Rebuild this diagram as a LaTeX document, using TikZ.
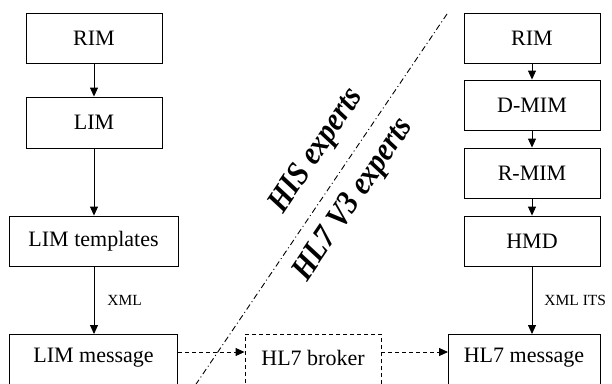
\documentclass[tikz,border=0pt]{standalone}
\usepackage{fontspec}
\setmainfont{Liberation Serif}
\usetikzlibrary{arrows.meta}
\begin{document}
\begin{tikzpicture}[x=1pt,y=-1pt,
  box/.style={draw,line width=0.9pt,inner sep=0pt,font=\fontsize{22}{24}\selectfont},
  dbox/.style={box,dashed,dash pattern=on 4pt off 3pt},
  arr/.style={line width=0.9pt,-{Triangle[length=9pt,width=8pt]}},
  darr/.style={arr,dash pattern=on 4pt off 3pt},
  lbl/.style={font=\fontsize{15.5}{17}\selectfont,inner sep=0pt},
  txt/.style={font=\fontsize{22}{24}\selectfont,inner sep=0pt},
  big/.style={font=\fontsize{33}{36}\selectfont\bfseries\itshape,inner sep=0pt,rotate=55.9}]
\useasboundingbox (0,0) rectangle (612,383);
\clip (0,0) rectangle (612,383);
% left column
\node[box,minimum width=136pt,minimum height=50pt] (rim1) at (94,38) {RIM};
\node[box,minimum width=136pt,minimum height=51pt] (lim) at (94,122.5) {LIM};
\node[box,minimum width=169pt,minimum height=50pt] (limt) at (93.5,241) {LIM templates};
\node[box,minimum width=168pt,minimum height=54pt,anchor=north] (limm) at (93.5,334) {};
\node[txt] (limmt) at (93.5,358) {LIM message};
% broker
\node[dbox,minimum width=136pt,minimum height=54pt,anchor=north] (brk) at (313,334) {};
\node[txt] (brkt) at (313,358) {HL7 broker};
% right column
\node[box,minimum width=136pt,minimum height=50pt] (rim2) at (532,38) {RIM};
\node[box,minimum width=136pt,minimum height=50pt] (dmim) at (532,105) {D-MIM};
\node[box,minimum width=136pt,minimum height=50pt] (rmim) at (532,173) {R-MIM};
\node[box,minimum width=136pt,minimum height=50pt] (hmd) at (532,241) {HMD};
\node[box,minimum width=152pt,minimum height=54pt,anchor=north west] (hl7m) at (448,334) {};
\node[txt] (hl7mt) at (524,358) {HL7 message};
% arrows left
\draw[arr] (rim1.south) -- (lim.north);
\draw[arr] (lim.south) -- (limt.north -| lim.south);
\draw[arr] (limt.south -| lim.south) -- (limm.north -| lim.south) node[lbl,midway,right=13pt] (xml) {XML};
% arrows right
\draw[arr] (rim2.south) -- (dmim.north);
\draw[arr] (dmim.south) -- (rmim.north);
\draw[arr] (rmim.south) -- (hmd.north);
\draw[arr] (hmd.south) -- (hmd.south |- hl7m.north) node[lbl,midway,right=12pt] (xmlits) {XML ITS};
% dashed arrows
\coordinate (y1) at (0,352);
\draw[darr] (limm.east |- y1) -- (brk.west |- y1);
\draw[darr] (brk.east |- y1) -- (hl7m.west |- y1);
% separator
\coordinate (s1) at (447,14);
\coordinate (s2) at (190,393);
\draw[line width=0.9pt,dash pattern=on 6pt off 3pt on 1pt off 3pt] (s1) -- (s2);
\node[big] (his) at (317,151) {\scalebox{0.88}[1]{HIS experts}};
\node[big] (hl7v3) at (354,200) {\scalebox{0.88}[1]{HL7 V3 experts}};
\end{tikzpicture}
\end{document}
